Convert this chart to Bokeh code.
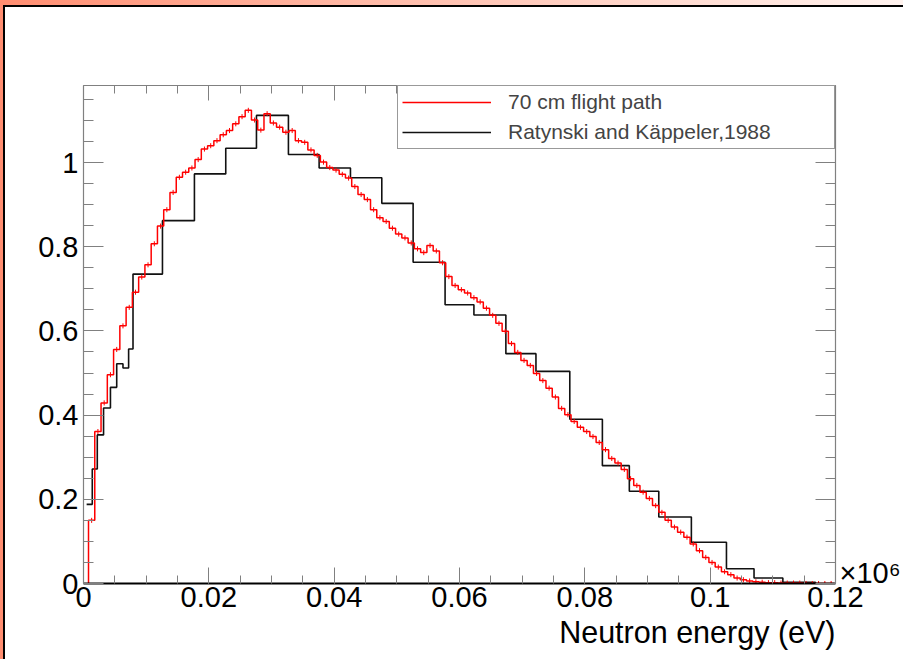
from bokeh.plotting import figure
from bokeh.models import (Range1d, FixedTicker, CustomJSTickFormatter, LinearAxis,
                          Legend, LegendItem, Title)
from bokeh.embed import file_html
from bokeh.resources import INLINE

FONT = "Liberation Sans"

# --- 70 cm flight path spectrum: uniform bins -------------------------------
red_first_edge = 0.0008
red_bin_width = 0.001
red_values = [
    0.150, 0.361, 0.429, 0.496, 0.556, 0.612, 0.656, 0.692, 0.728, 0.757,
    0.807, 0.849, 0.888, 0.929, 0.965, 0.977, 0.987, 1.007, 1.032, 1.040,
    1.052, 1.066, 1.076, 1.092, 1.109, 1.124, 1.101, 1.077, 1.116, 1.094,
    1.084, 1.072, 1.076, 1.052, 1.048, 1.030, 1.017, 1.001, 0.988, 0.982,
    0.972, 0.963, 0.943, 0.924, 0.912, 0.888, 0.869, 0.860, 0.844, 0.830,
    0.821, 0.809, 0.795, 0.786, 0.803, 0.790, 0.762, 0.729, 0.708, 0.698,
    0.690, 0.679, 0.669, 0.654, 0.637, 0.618, 0.599, 0.570, 0.549, 0.530,
    0.518, 0.499, 0.482, 0.464, 0.443, 0.416, 0.401, 0.385, 0.371, 0.361,
    0.349, 0.335, 0.318, 0.297, 0.286, 0.271, 0.249, 0.233, 0.217, 0.202,
    0.185, 0.169, 0.150, 0.134, 0.122, 0.110, 0.094, 0.078, 0.062, 0.050,
    0.039, 0.028, 0.021, 0.013, 0.009, 0.006, 0.004, 0.003, 0.002, 0.002,
    0.001, 0.001, 0.001, 0.001, 0.000, 0.000, 0.000, 0.000, 0.000,
]
red_err = 0.006  # statistical error bar half-height

# --- Ratynski and Kaeppeler (1988): variable bins ---------------------------
black_edges = [
    0.0005, 0.0014, 0.0022, 0.0032, 0.0043, 0.0053, 0.0063, 0.0072, 0.0079,
    0.0126, 0.0177, 0.0227, 0.0276, 0.0327, 0.0376, 0.0426, 0.0476, 0.0526,
    0.0577, 0.0623, 0.0674, 0.0722, 0.0776, 0.0828, 0.0871, 0.0918, 0.0970,
    0.1026, 0.1070, 0.1116, 0.1168,
]
black_values = [
    0.188, 0.272, 0.353, 0.417, 0.466, 0.522, 0.512, 0.557, 0.735, 0.862,
    0.973, 1.034, 1.112, 1.019, 0.987, 0.964, 0.903, 0.763, 0.662, 0.638,
    0.546, 0.504, 0.390, 0.280, 0.219, 0.158, 0.098, 0.035, 0.013, 0.003,
]

x_major = [0.0, 0.02, 0.04, 0.06, 0.08, 0.1, 0.12]
y_major = [0.0, 0.2, 0.4, 0.6, 0.8, 1.0]
X_MAX = 0.12
Y_MAX = 1.183
MULT_TEXT = "×10⁶"
MULT_POS = 0.024  # height at which the axis multiplier sits, right of the frame


def step_outline(edges, values, rise_from_zero, drop_to_zero):
    xs, ys = [], []
    if rise_from_zero:
        xs.append(edges[0]); ys.append(0.0)
    for i, v in enumerate(values):
        xs += [edges[i], edges[i + 1]]
        ys += [v, v]
    if drop_to_zero:
        xs.append(edges[-1]); ys.append(0.0)
    return xs, ys


red_edges = [red_first_edge + red_bin_width * i for i in range(len(red_values) + 1)]
red_x, red_y = step_outline(red_edges, red_values, True, False)
blk_x, blk_y = step_outline(black_edges, black_values, False, True)
red_centers = [(red_edges[i] + red_edges[i + 1]) / 2 for i in range(len(red_values))]

p = figure(width=903, height=659, output_backend="svg", toolbar_location=None,
           x_range=Range1d(0, X_MAX), y_range=Range1d(0, Y_MAX),
           min_border_left=83, min_border_right=67,
           min_border_top=85, min_border_bottom=76)
p.toolbar.logo = None
p.grid.visible = False
p.outline_line_color = None
p.background_fill_color = "white"
p.border_fill_color = None
# page frame: salmon gradient band with a black edge around the white panel
p.styles = {
    "background": ("linear-gradient(white, white) 5px 7px / 100% 100% no-repeat, "
                   "linear-gradient(black, black) 3px 5px / 100% 100% no-repeat, "
                   "linear-gradient(to right, #ff8d70 0%, #ffb9a6 40%, #fff3ef 100%)"),
}

r_black = p.line(blk_x, blk_y, line_color="#111111", line_width=1.6)
p.segment(x0=red_centers, y0=[v - red_err for v in red_values],
          x1=red_centers, y1=[v + red_err for v in red_values],
          line_color="red", line_width=1)
r_red = p.line(red_x, red_y, line_color="red", line_width=1.5)

fmt = CustomJSTickFormatter(code="return String(parseFloat(tick.toFixed(4)));")
x_ticker = FixedTicker(ticks=x_major, minor_ticks=[round(0.005 * i, 4) for i in range(25)])
y_ticker = FixedTicker(ticks=y_major, minor_ticks=[round(0.05 * i, 3) for i in range(24)])

TICK_GRAY = "#808080"


def style_axis(ax, major_len, minor_len, show_labels):
    ax.major_tick_in = major_len
    ax.major_tick_out = 0
    ax.minor_tick_in = minor_len
    ax.minor_tick_out = 0
    ax.major_tick_line_color = TICK_GRAY
    ax.minor_tick_line_color = TICK_GRAY
    ax.axis_line_color = TICK_GRAY
    ax.axis_line_width = 1.2
    ax.formatter = fmt
    if show_labels:
        ax.major_label_text_font = FONT
        ax.major_label_text_font_size = "29px"
        ax.major_label_text_color = "black"
    else:
        ax.major_label_standoff = 0
        ax.major_label_text_font_size = "0px"
        ax.major_label_text_color = None


xa = p.xaxis[0]
xa.ticker = x_ticker
style_axis(xa, 16, 8, True)
xa.major_label_standoff = 3
xa.axis_line_color = "black"
xa.axis_line_width = 2

ya = p.yaxis[0]
ya.ticker = y_ticker
style_axis(ya, 20, 10, True)
ya.major_label_standoff = 5

top_axis = LinearAxis(ticker=x_ticker)
style_axis(top_axis, 15, 8, False)
p.add_layout(top_axis, "above")

right_axis = LinearAxis(ticker=y_ticker)
style_axis(right_axis, 20, 10, False)
p.add_layout(right_axis, "right")

# axis multiplier, drawn as the single label of a bare outer axis on the right
mult_axis = LinearAxis(ticker=FixedTicker(ticks=[MULT_POS], minor_ticks=[]),
                       major_label_overrides={MULT_POS: MULT_TEXT})
mult_axis.axis_line_color = None
mult_axis.major_tick_line_color = None
mult_axis.minor_tick_line_color = None
mult_axis.major_tick_in = 0
mult_axis.major_tick_out = 0
mult_axis.major_label_standoff = 4
mult_axis.major_label_text_font = FONT
mult_axis.major_label_text_font_size = "29px"
mult_axis.major_label_text_color = "black"
p.add_layout(mult_axis, "right")

legend = Legend(items=[LegendItem(label="70 cm flight path", renderers=[r_red]),
                       LegendItem(label="Ratynski and Käppeler,1988", renderers=[r_black])],
                location="top_right", margin=0, padding=4, spacing=6,
                glyph_width=89, glyph_height=20, label_standoff=17, label_width=322,
                label_text_font=FONT, label_text_font_size="21px",
                border_line_color="#333333", border_line_width=1.5,
                background_fill_color="white", background_fill_alpha=1.0)
p.add_layout(legend)

# x-axis title, right-aligned under the axis
p.add_layout(Title(text="Neutron energy (eV)", align="right", text_font=FONT,
                   text_font_size="30.5px", text_font_style="normal",
                   text_color="black", standoff=6), "below")

open("out.html", "w").write(file_html(p, INLINE))
